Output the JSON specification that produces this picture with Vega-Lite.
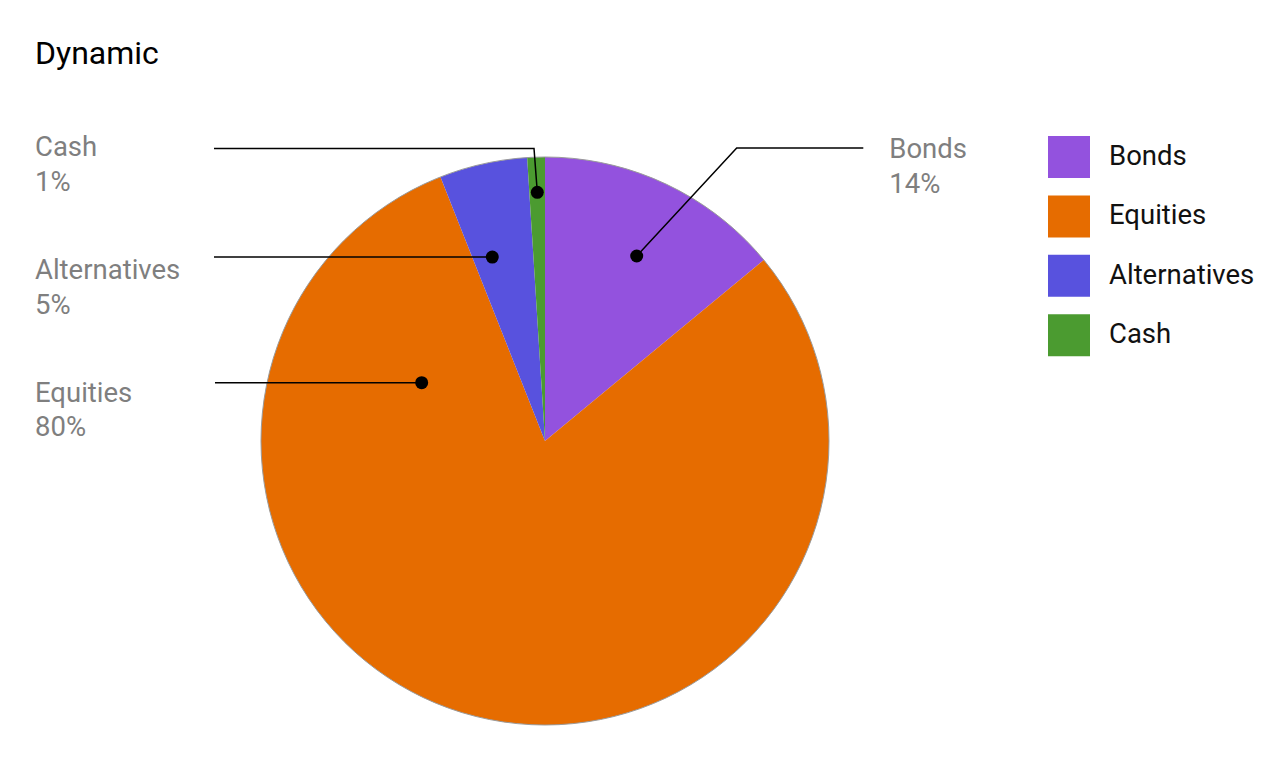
{
  "$schema": "https://vega.github.io/schema/vega-lite/v6.json",
  "width": 1280,
  "height": 684,
  "autosize": {"type": "none"},
  "padding": {"top": 80, "left": 0, "right": 0, "bottom": 0},
  "background": "white",
  "title": {
    "text": "Dynamic",
    "anchor": "start",
    "frame": "group",
    "dx": 35,
    "offset": -16,
    "baseline": "alphabetic",
    "font": "Roboto",
    "fontSize": 32,
    "fontWeight": "normal",
    "color": "#000000"
  },
  "config": {"view": {"stroke": null}, "font": "Roboto"},
  "datasets": {
    "slices": [
      {"asset": "Bonds", "value": 14, "idx": 1},
      {"asset": "Equities", "value": 80, "idx": 2},
      {"asset": "Alternatives", "value": 5, "idx": 3},
      {"asset": "Cash", "value": 1, "idx": 4}
    ],
    "leaders": [
      {"asset": "Bonds", "seq": 0, "x": 0.3229, "y": 0.6514},
      {"asset": "Bonds", "seq": 1, "x": 0.675, "y": 1.0317},
      {"asset": "Bonds", "seq": 2, "x": 1.1208, "y": 1.0317},
      {"asset": "Equities", "seq": 0, "x": -0.4342, "y": 0.2053},
      {"asset": "Equities", "seq": 1, "x": -1.162, "y": 0.2053},
      {"asset": "Alternatives", "seq": 0, "x": -0.1856, "y": 0.6475},
      {"asset": "Alternatives", "seq": 1, "x": -1.1655, "y": 0.6475},
      {"asset": "Cash", "seq": 0, "x": -0.0271, "y": 0.8757},
      {"asset": "Cash", "seq": 1, "x": -0.0387, "y": 1.0299},
      {"asset": "Cash", "seq": 2, "x": -1.1655, "y": 1.0299}
    ],
    "labels": [
      {"asset": "Bonds", "x": 1.2123, "y": 0.9954},
      {"asset": "Cash", "x": -1.7958, "y": 1.0035},
      {"asset": "Alternatives", "x": -1.7958, "y": 0.5694},
      {"asset": "Equities", "x": -1.7958, "y": 0.1384}
    ]
  },
  "layer": [
    {
      "data": {"name": "slices"},
      "mark": {"type": "arc", "outerRadius": 284},
      "encoding": {
        "theta": {"field": "value", "type": "quantitative", "stack": true},
        "order": {"field": "idx", "type": "quantitative"},
        "color": {
          "field": "asset",
          "type": "nominal",
          "scale": {
            "domain": ["Bonds", "Equities", "Alternatives", "Cash"],
            "range": ["#9352DE", "#E66C00", "#5852DE", "#4B9B30"]
          },
          "legend": {
            "title": null,
            "orient": "none",
            "legendX": 1048,
            "legendY": 56,
            "padding": 0,
            "symbolType": "square",
            "symbolSize": 1764,
            "symbolStrokeWidth": 0,
            "symbolOpacity": 1,
            "labelFont": "Roboto",
            "labelFontSize": 27.5,
            "labelColor": "#111111",
            "labelOffset": 19,
            "labelLimit": 400,
            "rowPadding": 17.4
          }
        },
        "x": {"datum": 0, "type": "quantitative", "scale": {"domain": [-1.91901, 2.58803], "nice": false, "zero": false}, "axis": null},
        "y": {"datum": 0, "type": "quantitative", "scale": {"domain": [-1.13732, 1.27113], "nice": false, "zero": false}, "axis": null}
      }
    },
    {
      "data": {"values": [{"c": 0}]},
      "mark": {"type": "point", "shape": "circle", "size": 322624, "filled": false, "stroke": "#9a9a9a", "strokeWidth": 1, "opacity": 1},
      "encoding": {
        "x": {"field": "c", "type": "quantitative", "axis": null},
        "y": {"field": "c", "type": "quantitative", "axis": null}
      }
    },
    {
      "data": {"name": "leaders"},
      "mark": {"type": "line", "stroke": "#000000", "strokeWidth": 1.5},
      "encoding": {
        "x": {"field": "x", "type": "quantitative", "axis": null},
        "y": {"field": "y", "type": "quantitative", "axis": null},
        "detail": {"field": "asset", "type": "nominal"},
        "order": {"field": "seq", "type": "quantitative"}
      }
    },
    {
      "data": {"name": "leaders"},
      "transform": [{"filter": "datum.seq == 0"}],
      "mark": {"type": "point", "shape": "circle", "filled": true, "color": "#000000", "size": 169, "opacity": 1},
      "encoding": {
        "x": {"field": "x", "type": "quantitative", "axis": null},
        "y": {"field": "y", "type": "quantitative", "axis": null}
      }
    },
    {
      "data": {"name": "labels"},
      "transform": [
        {"lookup": "asset", "from": {"data": {"name": "slices"}, "key": "asset", "fields": ["value"]}},
        {"calculate": "datum.asset + '\\n' + datum.value + '%'", "as": "txt"}
      ],
      "mark": {"type": "text", "align": "left", "baseline": "alphabetic", "lineBreak": "\n", "lineHeight": 34.5, "fontSize": 27.5, "font": "Roboto", "color": "#7f7f7f"},
      "encoding": {
        "x": {"field": "x", "type": "quantitative", "axis": null},
        "y": {"field": "y", "type": "quantitative", "axis": null},
        "text": {"field": "txt", "type": "nominal"}
      }
    }
  ]
}
